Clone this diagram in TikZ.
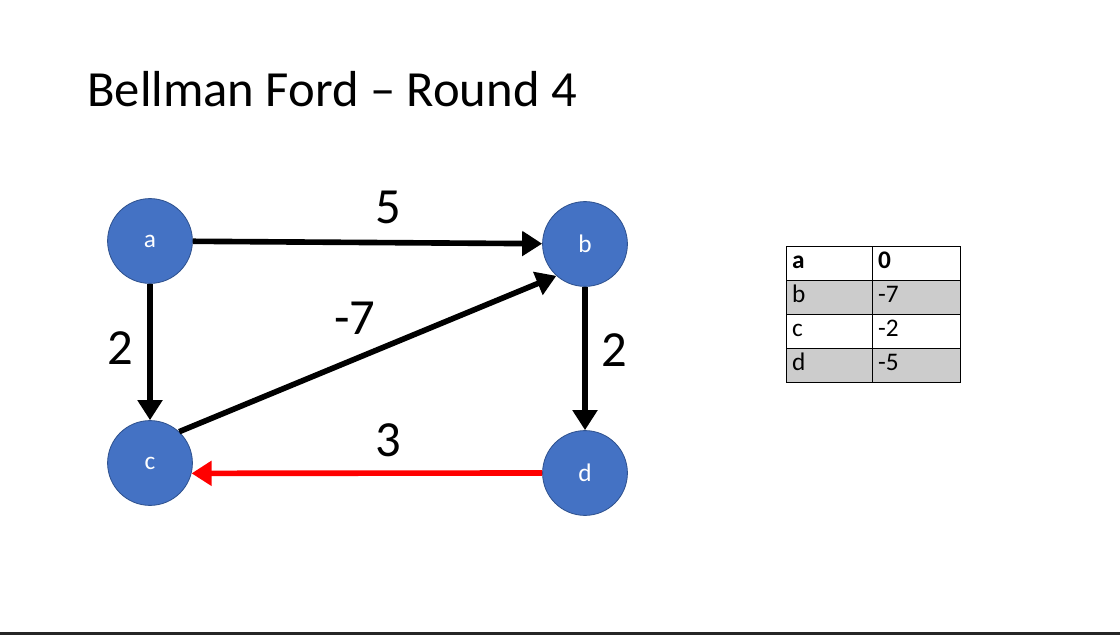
\documentclass[tikz,border=0pt]{standalone}
\usepackage{fontspec}
\setmainfont{Carlito}
\usetikzlibrary{arrows.meta,positioning}
\definecolor{nodeBlue}  {RGB}{ 68,114,196}
\definecolor{edgeBlue}  {RGB}{ 47, 82,143}
\definecolor{rowGray}   {RGB}{204,204,204}
\definecolor{slideLine} {RGB}{ 38, 38, 38}

\begin{document}
\begin{tikzpicture}[x=0.025cm, y=-0.025cm,
        vert/.style={circle, draw=edgeBlue, line width=0.6pt,
                     fill=nodeBlue, minimum size=2.12cm,
                     text=white, font=\fontsize{18}{20}\selectfont},
        arr/.style={-{Triangle[length=0.5cm,width=0.6cm]},
                    line width=4pt, black},
        wlabel/.style={font=\fontsize{36}{40}\selectfont},
        cellA/.style={draw, line width=0.5pt, text width=1.85cm,
                      align=left, inner xsep=0.15cm, inner ysep=0pt,
                      minimum height=0.85cm, outer sep=0pt,
                      text height=2.2ex, text depth=0.6ex,
                      font=\fontsize{18}{20}\selectfont},
        cellB/.style={cellA, text width=1.9cm},
        node distance=0pt]
  \useasboundingbox (0,0) rectangle (1120,635);
  \fill[slideLine] (0,632) rectangle (1120,635);
  % title
  \node[anchor=base west, inner sep=0pt,
        font=\fontsize{36}{42}\selectfont] (title) at (87,107)
    {Bellman Ford -- Round 4};
  % graph
  \node[vert] (a) at (150,241) {a};
  \node[vert] (b) at (585,244) {b};
  \node[vert] (c) at (150,463) {c};
  \node[vert] (d) at (585,473) {d};
  \draw[arr] (a) -- (b);
  \draw[arr] (a) -- (c);
  \draw[arr] (c.47) -- (b.228);
  \draw[arr] (b) -- (d);
  \draw[arr, red] (d.west) -- (c.-14);
  \node[wlabel] (w_ab) at (388,207) {5};
  \node[wlabel] (w_ac) at (120,348) {2};
  \node[wlabel] (w_cb) at (355,318) {-7};
  \node[wlabel] (w_bd) at (614,350) {2};
  \node[wlabel] (w_dc) at (388,440) {3};
  % distance table
  \node[cellA, anchor=north west, font=\fontsize{18}{20}\selectfont\bfseries]
    (ta) at (786,246) {a};
  \node[cellB, right=of ta, font=\fontsize{18}{20}\selectfont\bfseries] (tav) {0};
  \node[cellA, below=of ta, fill=rowGray] (tb) {b};
  \node[cellB, right=of tb, fill=rowGray] (tbv) {-7};
  \node[cellA, below=of tb] (tc) {c};
  \node[cellB, right=of tc] (tcv) {-2};
  \node[cellA, below=of tc, fill=rowGray] (td) {d};
  \node[cellB, right=of td, fill=rowGray] (tdv) {-5};
\end{tikzpicture}
\end{document}
